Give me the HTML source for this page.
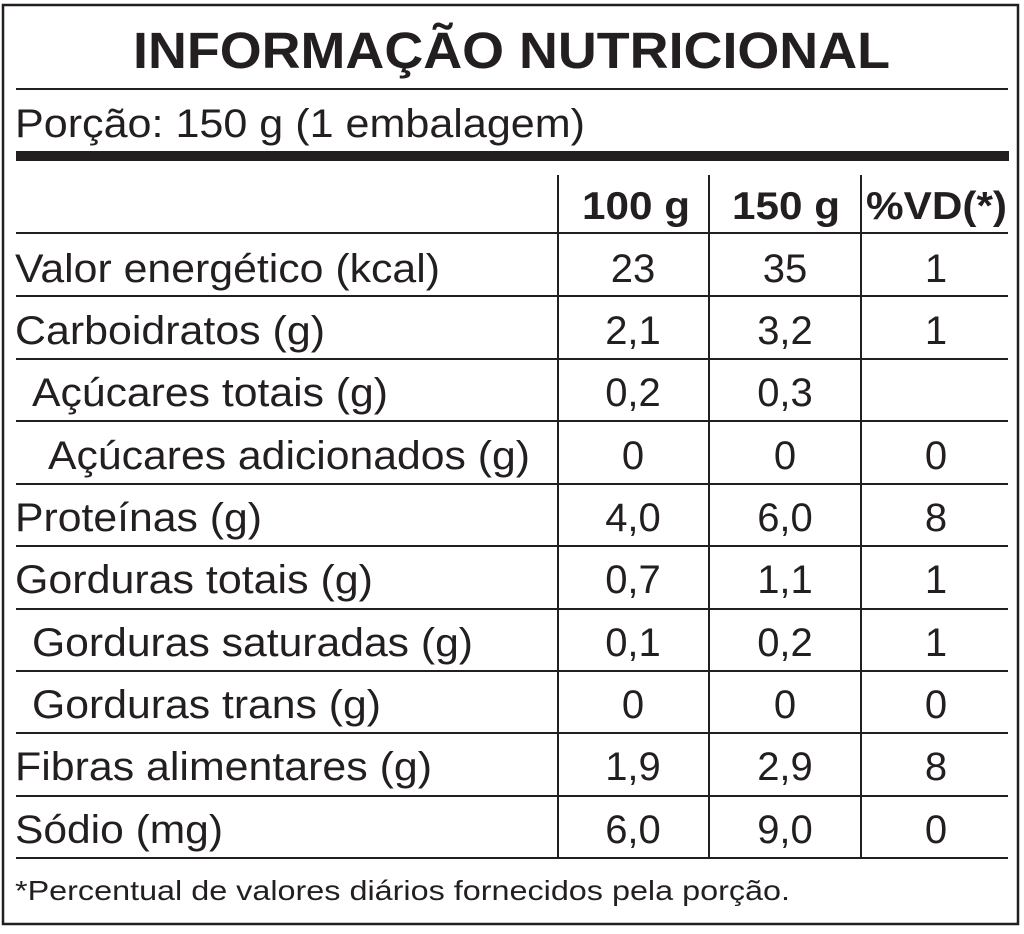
<!DOCTYPE html>
<html><head><meta charset="utf-8"><style>
html,body{margin:0;padding:0;background:#fff;}
svg{display:block;}
text{font-family:"Liberation Sans",Arial,sans-serif;fill:#231f20;}
</style></head><body>
<svg width="1024" height="934" viewBox="0 0 1024 934" xmlns="http://www.w3.org/2000/svg">
<rect x="3" y="5" width="1015" height="919" fill="none" stroke="#231f20" stroke-width="2.5"/>
<text x="133" y="68" font-size="51" font-weight="bold" textLength="757" lengthAdjust="spacingAndGlyphs">INFORMAÇÃO NUTRICIONAL</text>
<line x1="16" y1="89" x2="1008" y2="89" stroke="#231f20" stroke-width="2"/>
<text x="15" y="137" font-size="40" textLength="570" lengthAdjust="spacingAndGlyphs">Porção: 150 g (1 embalagem)</text>
<rect x="16" y="151" width="993" height="10" fill="#231f20"/>
<g stroke="#231f20" stroke-width="2">
<line x1="558" y1="175" x2="558" y2="858"/>
<line x1="709" y1="175" x2="709" y2="858"/>
<line x1="861" y1="175" x2="861" y2="858"/>
<line x1="16" y1="233" x2="1008" y2="233"/>
<line x1="16" y1="296" x2="1008" y2="296"/>
<line x1="16" y1="359" x2="1008" y2="359"/>
<line x1="16" y1="421" x2="1008" y2="421"/>
<line x1="16" y1="484" x2="1008" y2="484"/>
<line x1="16" y1="546" x2="1008" y2="546"/>
<line x1="16" y1="609" x2="1008" y2="609"/>
<line x1="16" y1="671" x2="1008" y2="671"/>
<line x1="16" y1="733" x2="1008" y2="733"/>
<line x1="16" y1="796" x2="1008" y2="796"/>
<line x1="16" y1="858" x2="1008" y2="858"/>
</g>
<g font-size="39" font-weight="bold">
<text x="582" y="219" textLength="108" lengthAdjust="spacingAndGlyphs">100 g</text>
<text x="732" y="219" textLength="108" lengthAdjust="spacingAndGlyphs">150 g</text>
<text x="866" y="219" textLength="141" lengthAdjust="spacingAndGlyphs">%VD(*)</text>
</g>
<g font-size="40">
<text x="15" y="282" textLength="425" lengthAdjust="spacingAndGlyphs">Valor energético (kcal)</text>
<text x="15" y="344" textLength="310" lengthAdjust="spacingAndGlyphs">Carboidratos (g)</text>
<text x="32" y="406" textLength="356" lengthAdjust="spacingAndGlyphs">Açúcares totais (g)</text>
<text x="48" y="469" textLength="482" lengthAdjust="spacingAndGlyphs">Açúcares adicionados (g)</text>
<text x="15" y="531" textLength="247" lengthAdjust="spacingAndGlyphs">Proteínas (g)</text>
<text x="15" y="593" textLength="358" lengthAdjust="spacingAndGlyphs">Gorduras totais (g)</text>
<text x="32" y="656" textLength="441" lengthAdjust="spacingAndGlyphs">Gorduras saturadas (g)</text>
<text x="32" y="718" textLength="349" lengthAdjust="spacingAndGlyphs">Gorduras trans (g)</text>
<text x="15" y="780" textLength="417" lengthAdjust="spacingAndGlyphs">Fibras alimentares (g)</text>
<text x="15" y="843" textLength="208" lengthAdjust="spacingAndGlyphs">Sódio (mg)</text>
</g>
<g font-size="40" text-anchor="middle">
<text x="633" y="282">23</text><text x="785" y="282">35</text><text x="936" y="282">1</text>
<text x="633" y="344">2,1</text><text x="785" y="344">3,2</text><text x="936" y="344">1</text>
<text x="633" y="406">0,2</text><text x="785" y="406">0,3</text>
<text x="633" y="469">0</text><text x="785" y="469">0</text><text x="936" y="469">0</text>
<text x="633" y="531">4,0</text><text x="785" y="531">6,0</text><text x="936" y="531">8</text>
<text x="633" y="593">0,7</text><text x="785" y="593">1,1</text><text x="936" y="593">1</text>
<text x="633" y="656">0,1</text><text x="785" y="656">0,2</text><text x="936" y="656">1</text>
<text x="633" y="718">0</text><text x="785" y="718">0</text><text x="936" y="718">0</text>
<text x="633" y="780">1,9</text><text x="785" y="780">2,9</text><text x="936" y="780">8</text>
<text x="633" y="843">6,0</text><text x="785" y="843">9,0</text><text x="936" y="843">0</text>
</g>
<text x="15" y="900" font-size="28" textLength="775" lengthAdjust="spacingAndGlyphs">*Percentual de valores diários fornecidos pela porção.</text>
</svg>
</body></html>
